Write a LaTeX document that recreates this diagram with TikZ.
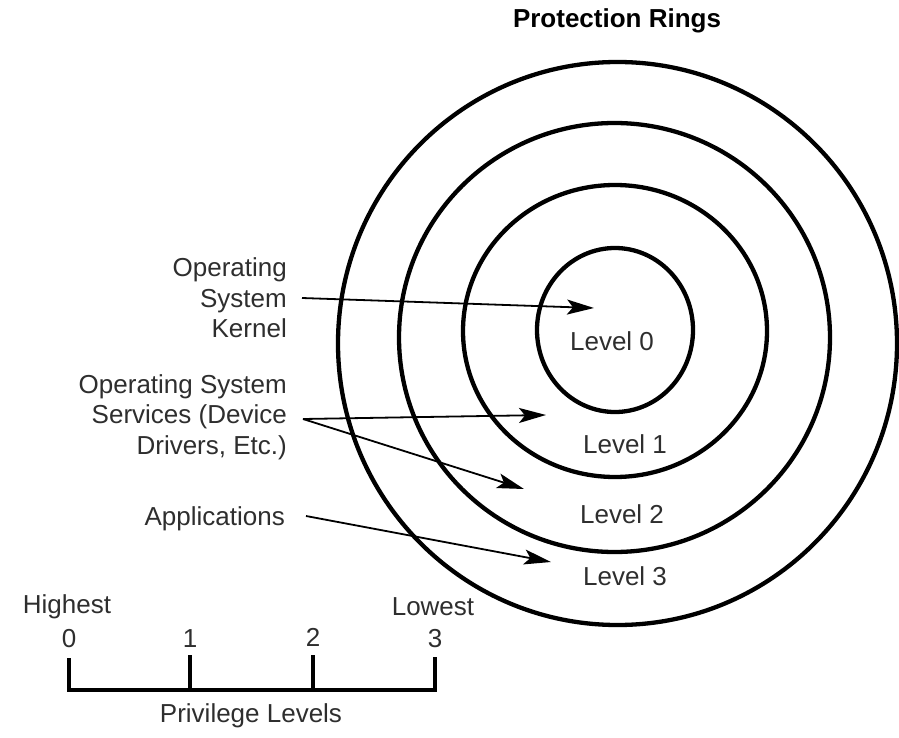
\documentclass[tikz,border=0pt]{standalone}
\usepackage{fontspec}
\setmainfont{Liberation Sans}
\usetikzlibrary{arrows.meta}

\tikzset{
  ring/.style={draw=black, line width=4.3pt},
  lbl/.style={inner sep=0pt, text=black!82, font=\fontsize{26}{30.5}\selectfont},
  side/.style={lbl, align=right, anchor=east},
  pointer/.style={draw=black, line width=1.8pt,
    -{Stealth[length=27pt, width=15pt, inset=6pt]}},
  scalebar/.style={draw=black, line width=4.5pt},
}

\begin{document}
\begin{tikzpicture}[x=1pt, y=-1pt]
  \useasboundingbox (0,0) rectangle (899,738);

  % title
  \node[lbl, text=black, font=\fontsize{26}{30}\selectfont\bfseries] (title) at (617,21) {Protection Rings};

  % the four concentric rings
  \coordinate (c3) at (617.5,343.5);
  \coordinate (c2) at (614.5,337.5);
  \coordinate (c1) at (615,331);
  \coordinate (c0) at (615,330);
  \draw[ring] (c3) ellipse [x radius=279.5pt, y radius=281.5pt];
  \draw[ring] (c2) ellipse [x radius=215.5pt, y radius=214.5pt];
  \draw[ring] (c1) ellipse [x radius=152pt, y radius=146pt];
  \draw[ring] (c0) ellipse [x radius=78pt, y radius=82pt];

  % ring labels
  \node[lbl] (lv0) at (612,341) {Level 0};
  \node[lbl] (lv1) at (625,444) {Level 1};
  \node[lbl] (lv2) at (622,514) {Level 2};
  \node[lbl] (lv3) at (625,576) {Level 3};

  % descriptions on the left
  \node[side] (kern) at (287,298) {Operating\\System\\Kernel};
  \node[side] (serv) at (287,417) {Operating System\\Services (Device\\Drivers, Etc.)};
  \node[side] (apps) at (285,519) {Applications};

  % pointer targets
  \coordinate (t0) at (594,308);
  \coordinate (t1) at (546,415);
  \coordinate (t2) at (524,489);
  \coordinate (t3) at (551,562);

  \draw[pointer] ([xshift=15pt]kern.east) -- (t0);
  \draw[pointer] ([xshift=16pt,yshift=-2pt]serv.east) -- (t1);
  \draw[pointer] ([xshift=16pt,yshift=-2pt]serv.east) -- (t2);
  \draw[pointer] ([xshift=21pt,yshift=3pt]apps.east) -- (t3);

  % privilege level scale
  \coordinate (s0) at (69,690);
  \coordinate (s1) at (190,690);
  \coordinate (s2) at (313,690);
  \coordinate (s3) at (435,690);
  \coordinate (s0t) at (69,658);
  \coordinate (s1t) at (190,655);
  \coordinate (s2t) at (313,655);
  \coordinate (s3t) at (435,657);
  \draw[scalebar] (s0t) -- (s0) -- (s3) -- (s3t);
  \draw[scalebar] (s1t) -- (s1);
  \draw[scalebar, line width=3.5pt] (s2t) -- (s2);

  \node[lbl] (n0) at (69,639) {0};
  \node[lbl] (n1) at (190,639) {1};
  \node[lbl] (n2) at (313,637) {2};
  \node[lbl] (n3) at (435,639) {3};
  \node[lbl] (hi) at (67,607) {Highest};
  \node[lbl] (lo) at (433,607) {Lowest};
  \node[lbl] (pl) at (251,716) {Privilege Levels};
\end{tikzpicture}
\end{document}
